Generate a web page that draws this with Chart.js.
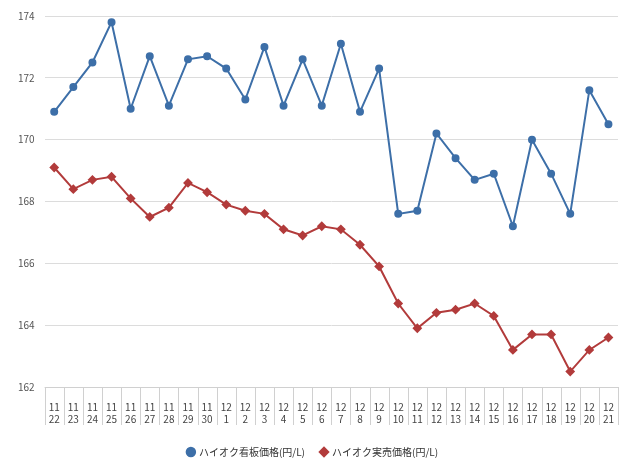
<!DOCTYPE html>
<html>
<head>
<meta charset="utf-8">
<script src="https://cdn.jsdelivr.net/npm/chart.js@4"></script>
<style>
html,body{margin:0;padding:0;background:#fff;}
#wrap{width:640px;height:467px;position:relative;}
</style>
</head>
<body>
<div id="wrap"><canvas id="c"></canvas></div>
<script>
// 日付ラベル [月, 日]
const labels = [
  ['11','22'],['11','23'],['11','24'],['11','25'],['11','26'],['11','27'],['11','28'],['11','29'],['11','30'],
  ['12','1'],['12','2'],['12','3'],['12','4'],['12','5'],['12','6'],['12','7'],['12','8'],['12','9'],['12','10'],
  ['12','11'],['12','12'],['12','13'],['12','14'],['12','15'],['12','16'],['12','17'],['12','18'],['12','19'],['12','20'],['12','21']
];
const kanban = [170.9,171.7,172.5,173.8,171.0,172.7,171.1,172.6,172.7,172.3,171.3,173.0,171.1,172.6,171.1,173.1,170.9,172.3,167.6,167.7,170.2,169.4,168.7,168.9,167.2,170.0,168.9,167.6,171.6,170.5];
const jitsubai = [169.1,168.4,168.7,168.8,168.1,167.5,167.8,168.6,168.3,167.9,167.7,167.6,167.1,166.9,167.2,167.1,166.6,165.9,164.7,163.9,164.4,164.5,164.7,164.3,163.2,163.7,163.7,162.5,163.2,163.6];
const yTicks = [162,164,166,168,170,172,174];

// x軸下の区切り線
const separators = {
  id:'separators',
  afterDraw(chart){
    const x = chart.scales.x, a = chart.chartArea, ctx = chart.ctx;
    const step = x.getPixelForValue(1) - x.getPixelForValue(0);
    ctx.save();
    ctx.strokeStyle = '#d0d0d0'; ctx.lineWidth = 1;
    ctx.beginPath();
    for (let i = 0; i <= labels.length; i++) {
      const px = Math.round(x.getPixelForValue(i) - step/2) + 0.5;
      ctx.moveTo(px, a.bottom); ctx.lineTo(px, a.bottom + 38);
    }
    ctx.moveTo(a.left, a.bottom + 0.5); ctx.lineTo(a.right, a.bottom + 0.5);
    ctx.stroke();
    ctx.restore();
  }
};

const tickFont = {family:'"Noto Sans CJK JP", "Noto Sans", sans-serif', size:10};
new Chart(document.getElementById('c'), {
  type:'line',
  data:{labels, datasets:[
    {label:'ハイオク看板価格(円/L)', data:kanban, borderColor:'#3d6fa8', backgroundColor:'#3d6fa8', borderWidth:2, pointStyle:'circle', pointRadius:3, tension:0},
    {label:'ハイオク実売価格(円/L)', data:jitsubai, borderColor:'#b23b3b', backgroundColor:'#b23b3b', borderWidth:2, pointStyle:'rectRot', pointRadius:3.5, tension:0}
  ]},
  options:{
    responsive:true, maintainAspectRatio:false, animation:false,
    layout:{padding:{left:8,right:22,top:0,bottom:0}},
    scales:{
      x:{offset:true, grid:{display:false}, border:{display:false},
         ticks:{color:'#444', font:tickFont, maxRotation:0, autoSkip:false, padding:6}},
      y:{min:162, max:174, afterBuildTicks:ax=>{ax.ticks=yTicks.map(v=>({value:v}));},
         grid:{color:'#dcdcdc', drawTicks:false}, border:{display:false},
         ticks:{color:'#555', font:tickFont, padding:10}}
    },
    plugins:{
      legend:{position:'bottom', labels:{usePointStyle:true, boxWidth:6, boxHeight:6, padding:16, color:'#333', font:{family:'"Noto Sans CJK JP", sans-serif', size:10}}},
      tooltip:{enabled:false}
    }
  },
  plugins:[separators]
});
</script>
</body>
</html>
